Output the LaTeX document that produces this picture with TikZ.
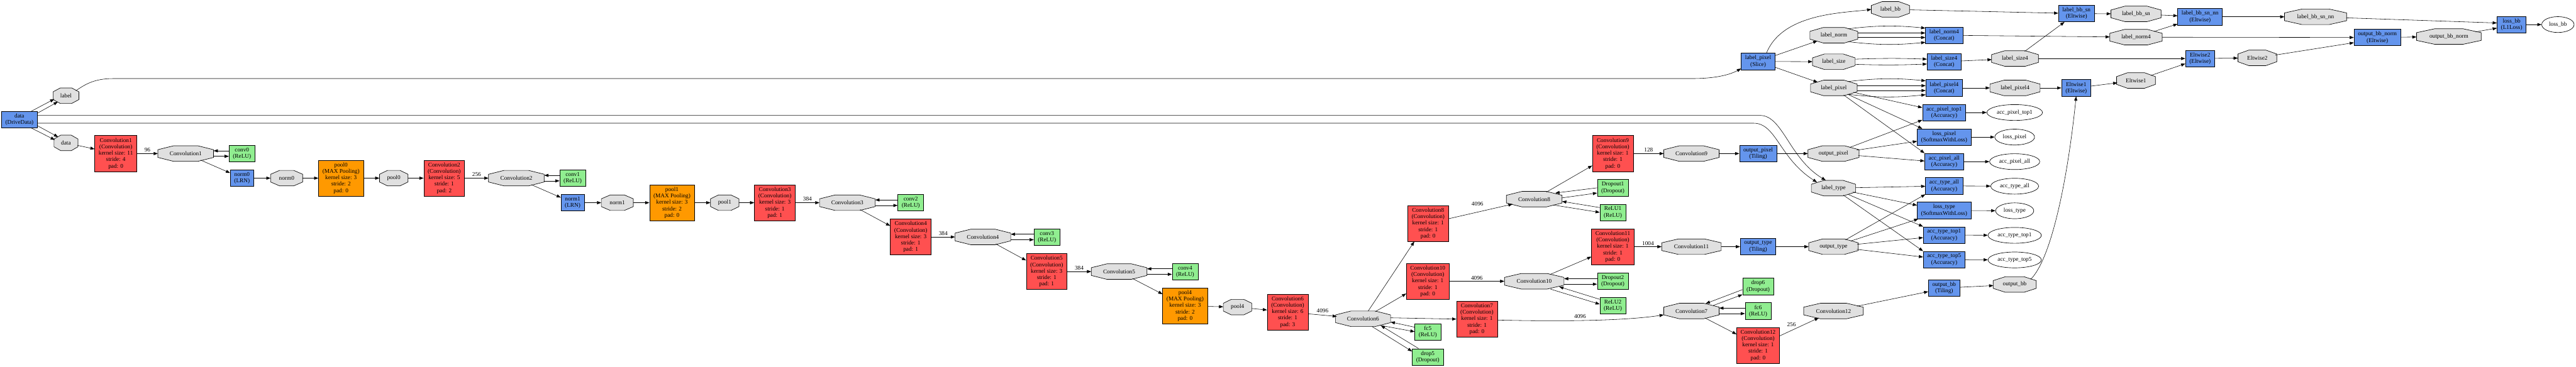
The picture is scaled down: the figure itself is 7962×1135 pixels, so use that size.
\documentclass[tikz,border=0pt]{standalone}
\usepackage{fontspec}
\setmainfont{Liberation Serif}
\usetikzlibrary{arrows.meta,shapes.geometric}
\definecolor{convred}{HTML}{FF5050}
\definecolor{poolorange}{HTML}{FF9900}
\definecolor{layerblue}{HTML}{6495ED}
\definecolor{neurongreen}{HTML}{90EE90}
\definecolor{blobgray}{HTML}{E0E0E0}
\newcommand{\gvfont}{\fontsize{18pt}{20pt}\selectfont}
\newcommand{\gvblob}[5]{%
  \path[blobshape] ({#2-0.5*#4},{-#3-12}) -- ({#2-0.5*#4},{-#3+12}) -- ({#2-0.22*#4},{-#3+24}) -- ({#2+0.22*#4},{-#3+24}) -- ({#2+0.5*#4},{-#3+12}) -- ({#2+0.5*#4},{-#3-12}) -- ({#2+0.22*#4},{-#3-24}) -- ({#2-0.22*#4},{-#3-24}) -- cycle;
  \node[blobnode, minimum width=#4pt] (#1) at (#2,-#3) {#5};
}
\begin{document}
\begin{tikzpicture}[x=1pt,y=1pt,
  conn/.style={draw=black, line width=1.1pt, -{Triangle[length=13pt,width=9.5pt]}},
  rec/.style={draw=black, line width=1.3pt, rectangle, inner xsep=12pt, inner ysep=0pt, align=center, font=\gvfont, minimum height=51pt},
  conv/.style={rec, minimum height=111pt, fill=convred},
  pool/.style={rec, minimum height=111pt, fill=poolorange},
  layerbox/.style={rec, fill=layerblue},
  neuron/.style={rec, fill=neurongreen},
  blobshape/.style={fill=blobgray, draw=black, line width=1.3pt},
  blobnode/.style={ellipse, minimum height=48pt, inner sep=0pt, font=\gvfont},
  outblob/.style={ellipse, draw=black, line width=1.3pt, fill=white, minimum height=49pt, inner sep=0pt, font=\gvfont},
  elabel/.style={font=\gvfont, inner sep=0pt}
]
\useasboundingbox (0,0) rectangle (7962,-1135);
\fill[white] (0,0) rectangle (7962,-1135);

% ---------- layer boxes ----------
\node[layerbox] (ddata) at (60,-370) {data\\(DriveData)};
\node[conv] (c1r) at (358,-475) {Convolution1\\(Convolution)\\kernel size: 11\\stride: 4\\pad: 0};
\node[neuron] (g0) at (748,-475) {conv0\\(ReLU)};
\node[layerbox] (n0r) at (748,-551) {norm0\\(LRN)};
\node[pool] (p0r) at (1054,-551) {pool0\\(MAX Pooling)\\kernel size: 3\\stride: 2\\pad: 0};
\node[conv] (c2r) at (1373,-551) {Convolution2\\(Convolution)\\kernel size: 5\\stride: 1\\pad: 2};
\node[neuron] (g1) at (1770,-551) {conv1\\(ReLU)};
\node[layerbox] (n1r) at (1770,-627) {norm1\\(LRN)};
\node[pool] (p1r) at (2077,-627) {pool1\\(MAX Pooling)\\kernel size: 3\\stride: 2\\pad: 0};
\node[conv] (c3r) at (2395,-627) {Convolution3\\(Convolution)\\kernel size: 3\\stride: 1\\pad: 1};
\node[neuron] (g2) at (2815,-627) {conv2\\(ReLU)};
\node[conv] (c4r) at (2815,-733) {Convolution4\\(Convolution)\\kernel size: 3\\stride: 1\\pad: 1};
\node[neuron] (g3) at (3236,-733) {conv3\\(ReLU)};
\node[conv] (c5r) at (3235,-840) {Convolution5\\(Convolution)\\kernel size: 3\\stride: 1\\pad: 1};
\node[neuron] (g4) at (3663,-840) {conv4\\(ReLU)};
\node[pool] (p4r) at (3663,-946) {pool4\\(MAX Pooling)\\kernel size: 3\\stride: 2\\pad: 0};
\node[conv] (c6r) at (3980,-965) {Convolution6\\(Convolution)\\kernel size: 6\\stride: 1\\pad: 3};
\node[neuron] (gfc5) at (4413,-1027) {fc5\\(ReLU)};
\node[neuron] (gdrop5) at (4413,-1104) {drop5\\(Dropout)};
\node[conv] (c8r) at (4414,-691) {Convolution8\\(Convolution)\\kernel size: 1\\stride: 1\\pad: 0};
\node[conv] (c10r) at (4413,-870) {Convolution10\\(Convolution)\\kernel size: 1\\stride: 1\\pad: 0};
\node[conv] (c7r) at (4565,-987) {Convolution7\\(Convolution)\\kernel size: 1\\stride: 1\\pad: 0};
\node[conv] (c9r) at (4985,-475) {Convolution9\\(Convolution)\\kernel size: 1\\stride: 1\\pad: 0};
\node[neuron] (gd1) at (4985,-581) {Dropout1\\(Dropout)};
\node[neuron] (gr1) at (4985,-657) {ReLU1\\(ReLU)};
\node[conv] (c11r) at (4985,-763) {Convolution11\\(Convolution)\\kernel size: 1\\stride: 1\\pad: 0};
\node[neuron] (gd2) at (4985,-870) {Dropout2\\(Dropout)};
\node[neuron] (gr2) at (4985,-946) {ReLU2\\(ReLU)};
\node[layerbox] (lps) at (5434,-190) {label\_pixel\\(Slice)};
\node[layerbox] (opb) at (5434,-475) {output\_pixel\\(Tiling)};
\node[layerbox] (otb) at (5434,-763) {output\_type\\(Tiling)};
\node[neuron] (gdrop6) at (5434,-886) {drop6\\(Dropout)};
\node[neuron] (gfc6) at (5434,-962) {fc6\\(ReLU)};
\node[conv] (c12r) at (5434,-1068) {Convolution12\\(Convolution)\\kernel size: 1\\stride: 1\\pad: 0};
\node[layerbox] (ln4b) at (6009,-109) {label\_norm4\\(Concat)};
\node[layerbox] (ls4b) at (6009,-191) {label\_size4\\(Concat)};
\node[layerbox] (lp4b) at (6009,-272) {label\_pixel4\\(Concat)};
\node[layerbox] (apt1b) at (6009,-348) {acc\_pixel\_top1\\(Accuracy)};
\node[layerbox] (lpb) at (6009,-424) {loss\_pixel\\(SoftmaxWithLoss)};
\node[layerbox] (apab) at (6009,-500) {acc\_pixel\_all\\(Accuracy)};
\node[layerbox] (atab) at (6009,-575) {acc\_type\_all\\(Accuracy)};
\node[layerbox] (ltb) at (6009,-651) {loss\_type\\(SoftmaxWithLoss)};
\node[layerbox] (att1b) at (6009,-727) {acc\_type\_top1\\(Accuracy)};
\node[layerbox] (att5b) at (6009,-803) {acc\_type\_top5\\(Accuracy)};
\node[layerbox] (obb) at (6009,-891) {output\_bb\\(Tiling)};
\node[layerbox] (lbsb) at (6418,-42) {label\_bb\_sn\\(Eltwise)};
\node[layerbox] (e1b) at (6417,-272) {Eltwise1\\(Eltwise)};
\node[layerbox] (lbsnb) at (6800,-52) {label\_bb\_sn\_nn\\(Eltwise)};
\node[layerbox] (e2b) at (6800,-181) {Eltwise2\\(Eltwise)};
\node[layerbox] (obnb) at (7348,-116) {output\_bb\_norm\\(Eltwise)};
\node[layerbox] (lbb) at (7763,-76) {loss\_bb\\(L1Loss)};

% ---------- blobs (octagons) ----------
\gvblob{labelo}{204}{296}{80}{label}
\gvblob{datao}{204}{442}{74}{data}
\gvblob{c1o}{574}{475}{172}{Convolution1}
\gvblob{n0o}{886}{551}{99}{norm0}
\gvblob{p0o}{1217}{551}{88}{pool0}
\gvblob{c2o}{1596}{551}{172}{Convolution2}
\gvblob{n1o}{1908}{627}{99}{norm1}
\gvblob{p1o}{2240}{627}{88}{pool1}
\gvblob{c3o}{2619}{627}{172}{Convolution3}
\gvblob{c4o}{3038}{733}{172}{Convolution4}
\gvblob{c5o}{3459}{840}{172}{Convolution5}
\gvblob{p4o}{3825}{950}{88}{pool4}
\gvblob{c6o}{4213}{986}{170}{Convolution6}
\gvblob{c8o}{4742}{616}{172}{Convolution8}
\gvblob{c10o}{4742}{870}{184}{Convolution10}
\gvblob{c9o}{5228}{475}{171}{Convolution9}
\gvblob{c11o}{5228}{763}{184}{Convolution11}
\gvblob{c7o}{5228}{962}{171}{Convolution7}
\gvblob{c12o}{5667}{962}{184}{Convolution12}
\gvblob{opo}{5667}{475}{158}{output\_pixel}
\gvblob{lto}{5667}{582}{137}{label\_type}
\gvblob{oto}{5667}{763}{153}{output\_type}
\gvblob{lbbo}{5843}{29}{118}{label\_bb}
\gvblob{lno}{5668}{109}{148}{label\_norm}
\gvblob{lso}{5668}{191}{132}{label\_size}
\gvblob{lpo}{5668}{272}{144}{label\_pixel}
\gvblob{ls4o}{6228}{181}{145}{label\_size4}
\gvblob{lp4o}{6228}{272}{155}{label\_pixel4}
\gvblob{obo}{6227}{880}{133}{output\_bb}
\gvblob{lbso}{6602}{43}{155}{label\_bb\_sn}
\gvblob{ln4o}{6602}{115}{162}{label\_norm4}
\gvblob{e1o}{6602}{249}{120}{Eltwise1}
\gvblob{e2o}{6977}{179}{120}{Eltwise2}
\gvblob{lbsno}{7157}{52}{192}{label\_bb\_sn\_nn}
\gvblob{obno}{7569}{113}{200}{output\_bb\_norm}

% ---------- output ellipses ----------
\node[outblob, minimum width=172pt] (apt1e) at (6227,-348) {acc\_pixel\_top1};
\node[outblob, minimum width=123pt] (lpe) at (6227,-424) {loss\_pixel};
\node[outblob, minimum width=155pt] (apae) at (6227,-500) {acc\_pixel\_all};
\node[outblob, minimum width=148pt] (atae) at (6227,-576) {acc\_type\_all};
\node[outblob, minimum width=118pt] (lte) at (6227,-652) {loss\_type};
\node[outblob, minimum width=165pt] (att1e) at (6227,-728) {acc\_type\_top1};
\node[outblob, minimum width=165pt] (att5e) at (6227,-804) {acc\_type\_top5};
\node[outblob, minimum width=100pt] (lbe) at (7906,-76) {loss\_bb};

% ---------- data layer edges ----------
\draw[conn] ([xshift=-19pt]ddata.north east) -- (labelo.196);
\draw[conn] ([yshift=-6pt]ddata.north east) -- (labelo.217);
\draw[conn] ([xshift=-19pt]ddata.south east) -- (datao.165);
\draw[conn] ([yshift=7pt]ddata.south east) -- (datao.143);
\draw[conn] ([yshift=13pt]ddata.east) -- (5440,-357) .. controls (5510,-357) and (5530,-490) .. ([xshift=-24pt]lto.north);
\draw[conn] ([yshift=-11pt]ddata.east) -- (5420,-381) .. controls (5490,-381) and (5500,-490) .. ([xshift=-51pt,yshift=-6pt]lto.north);
\draw[conn] (labelo.27) .. controls (262,-262) and (290,-243) .. (350,-243) -- (5230,-243) .. controls (5300,-243) and (5345,-232) .. ([yshift=4pt]lps.south west);

% ---------- convolution chain ----------
\draw[conn] (datao) -- (c1r);
\draw[conn] (c1r) -- node[elabel, above=4pt] {96} (c1o);
\draw[conn] ([yshift=8.5pt]g0.west) -- ([yshift=8.5pt]c1o.east);
\draw[conn] ([yshift=-8.5pt]c1o.east) -- ([yshift=-8.5pt]g0.west);
\draw[conn] (c1o) -- (n0r);
\draw[conn] (n0r) -- (n0o);
\draw[conn] (n0o) -- (p0r);
\draw[conn] (p0r) -- (p0o);
\draw[conn] (p0o) -- (c2r);
\draw[conn] (c2r) -- node[elabel, above=5pt] {256} (c2o);
\draw[conn] ([yshift=8.5pt]g1.west) -- ([yshift=8.5pt]c2o.east);
\draw[conn] ([yshift=-8.5pt]c2o.east) -- ([yshift=-8.5pt]g1.west);
\draw[conn] (c2o) -- (n1r);
\draw[conn] (n1r) -- (n1o);
\draw[conn] (n1o) -- (p1r);
\draw[conn] (p1r) -- (p1o);
\draw[conn] (p1o) -- (c3r);
\draw[conn] (c3r) -- node[elabel, above=5pt] {384} (c3o);
\draw[conn] ([yshift=8.5pt]g2.west) -- ([yshift=8.5pt]c3o.east);
\draw[conn] ([yshift=-8.5pt]c3o.east) -- ([yshift=-8.5pt]g2.west);
\draw[conn] (c3o) -- (c4r);
\draw[conn] (c4r) -- node[elabel, above=5pt] {384} (c4o);
\draw[conn] ([yshift=8.5pt]g3.west) -- ([yshift=8.5pt]c4o.east);
\draw[conn] ([yshift=-8.5pt]c4o.east) -- ([yshift=-8.5pt]g3.west);
\draw[conn] (c4o) -- (c5r);
\draw[conn] (c5r) -- node[elabel, above=5pt] {384} (c5o);
\draw[conn] ([yshift=8.5pt]g4.west) -- ([yshift=8.5pt]c5o.east);
\draw[conn] ([yshift=-8.5pt]c5o.east) -- ([yshift=-8.5pt]g4.west);
\draw[conn] (c5o) -- (p4r);
\draw[conn] (p4r) -- (p4o);
\draw[conn] (p4o) -- (c6r);
\draw[conn] (c6r) -- node[elabel, above=7pt] {4096} (c6o);
\draw[conn] ([yshift=15pt]gfc5.west) -- ([yshift=-10pt]c6o.east);
\draw[conn] ([shift={(51pt,-20pt)}]c6o.center) -- ([yshift=1pt]gfc5.west);
\draw[conn] ([xshift=20pt]gdrop5.north west) -- ([shift={(55pt,-21pt)}]c6o.center);
\draw[conn] ([xshift=28pt]c6o.south) -- ([yshift=-9pt]gdrop5.north west);
\draw[conn] (c6o) -- ([xshift=21pt]c8r.south west);
\draw[conn] (c6o) -- ([yshift=18pt]c10r.south west);
\draw[conn] ([yshift=3pt]c6o.east) -- (c7r.west);

% Convolution8 branch
\draw[conn] (c8r) -- node[elabel, pos=0.45, above=18pt] {4096} (c8o);
\draw[conn] (gd1.west) -- ([shift={(-21pt,19pt)}]c8o.east);
\draw[conn] ([yshift=4pt]c8o.east) -- ([yshift=-16pt]gd1.west);
\draw[conn] ([yshift=15pt]gr1.west) -- ([yshift=-7pt]c8o.east);
\draw[conn] ([shift={(-28pt,-18pt)}]c8o.east) -- (gr1.west);
\draw[conn] (c8o) -- ([yshift=19pt]c9r.south west);
\draw[conn] (c9r) -- node[elabel, above=5pt] {128} (c9o);
\draw[conn] (c9o) -- (opb);
\draw[conn] (opb) -- (opo);

% Convolution10 branch
\draw[conn] (c10r) -- node[elabel, above=4pt] {4096} (c10o);
\draw[conn] ([yshift=8pt]gd2.west) -- ([yshift=8pt]c10o.east);
\draw[conn] ([yshift=-9pt]c10o.east) -- ([yshift=-9pt]gd2.west);
\draw[conn] ([yshift=-6pt]gr2.north west) -- ([shift={(-15pt,-17pt)}]c10o.east);
\draw[conn] ([xshift=50pt]c10o.south) -- ([yshift=5pt]gr2.west);
\draw[conn] (c10o) -- ([yshift=25pt]c11r.south west);
\draw[conn] (c11r) -- node[elabel, above=4pt] {1004} (c11o);
\draw[conn] (c11o) -- (otb);
\draw[conn] (otb) -- (oto);

% Convolution7 branch
\draw[conn] ([yshift=-3pt]c7r.east) .. controls (4800,-994) and (5010,-994) .. node[elabel, pos=0.47, above=6pt] {4096} ([yshift=-12pt]c7o.west);
\draw[conn] ([yshift=-10pt]gdrop6.west) -- ([shift={(44pt,23pt)}]c7o.center);
\draw[conn] ([shift={(67pt,17pt)}]c7o.center) -- ([yshift=1pt]gdrop6.south west);
\draw[conn] ([yshift=9pt]gfc6.west) -- ([yshift=9pt]c7o.east);
\draw[conn] ([yshift=-8pt]c7o.east) -- ([yshift=-8pt]gfc6.west);
\draw[conn] (c7o) -- ([yshift=-22pt]c12r.north west);
\draw[conn] ([yshift=29pt]c12r.east) -- node[elabel, pos=0.3, above=12pt] {256} (c12o);
\draw[conn] (c12o) -- ([yshift=-11pt]obb.west);
\draw[conn] (obb) -- (obo);
\draw[conn] (obo.18) .. controls (6340,-800) and (6390,-560) .. (e1b.south);

% ---------- label slicing ----------
\draw[conn] ([xshift=26pt]lps.north) .. controls (5510,-40) and (5700,-40) .. (lbbo.west);
\draw[conn] ([yshift=-8pt]lps.north east) -- (lno);
\draw[conn] (lps) -- (lso);
\draw[conn] ([yshift=8pt]lps.south east) -- (lpo);
\draw[conn] (lno.25) to[bend left=6] ([yshift=22pt]ln4b.west);
\draw[conn] ([yshift=7pt]lno.east) -- ([yshift=7pt]ln4b.west);
\draw[conn] ([yshift=-7pt]lno.east) -- ([yshift=-7pt]ln4b.west);
\draw[conn] (lno.-25) to[bend right=6] ([yshift=-22pt]ln4b.west);
\draw[conn] ([yshift=8pt]lso.east) to[bend left=2] ([yshift=8pt]ls4b.west);
\draw[conn] ([yshift=-8pt]lso.east) to[bend right=2] ([yshift=-7pt]ls4b.west);
\draw[conn] (lpo.25) to[bend left=6] ([yshift=22pt]lp4b.west);
\draw[conn] ([yshift=7pt]lpo.east) -- ([yshift=7pt]lp4b.west);
\draw[conn] ([yshift=-8pt]lpo.east) -- ([yshift=-8pt]lp4b.west);
\draw[conn] (lpo.-25) to[bend right=6] ([yshift=-21pt]lp4b.west);
\draw[conn] (ln4b) -- (ln4o);
\draw[conn] (ls4b) -- (ls4o);
\draw[conn] (lp4b) -- (lp4o);

% ---------- bounding box loss ----------
\draw[conn] (lbbo) -- (lbsb);
\draw[conn] (ls4o) -- ([xshift=19pt]lbsb.south west);
\draw[conn] (ls4o) -- (e2b);
\draw[conn] (lbsb) -- (lbso);
\draw[conn] (lbso) -- (lbsnb);
\draw[conn] (ln4o) -- ([yshift=4pt]lbsnb.south west);
\draw[conn] (ln4o) -- (obnb);
\draw[conn] (lbsnb) -- (lbsno);
\draw[conn] (lbsno) -- ([yshift=5pt]lbb.west);
\draw[conn] (lp4o) -- (e1b);
\draw[conn] (e1b) -- (e1o);
\draw[conn] (e1o) -- ([yshift=-16pt]e2b.west);
\draw[conn] (e2b) -- (e2o);
\draw[conn] (e2o) -- ([yshift=-16pt]obnb.west);
\draw[conn] (obnb) -- (obno);
\draw[conn] (obno) -- ([yshift=-11pt]lbb.west);
\draw[conn] (lbb) -- (lbe);

% ---------- pixel / type losses ----------
\draw[conn] (lpo) -- ([yshift=-11pt]apt1b.north west);
\draw[conn] (lpo) -- ([xshift=16pt]lpb.north west);
\draw[conn] (lpo) -- (apab.north west);
\draw[conn] (opo) -- ([yshift=3pt]apt1b.south west);
\draw[conn] (opo) -- ([yshift=-13pt]lpb.west);
\draw[conn] (opo) -- ([yshift=2pt]apab.west);
\draw[conn] (lto) -- (atab);
\draw[conn] (lto) -- ([yshift=16pt]ltb.west);
\draw[conn] (lto) -- (att1b.north west);
\draw[conn] (lto) -- (att5b.north west);
\draw[conn] (oto) -- (atab.south west);
\draw[conn] (oto) -- ([xshift=4pt]ltb.south west);
\draw[conn] (oto) -- ([yshift=-8pt]att1b.west);
\draw[conn] (oto) -- ([yshift=8pt]att5b.west);
\draw[conn] (apt1b) -- (apt1e);
\draw[conn] (lpb) -- (lpe);
\draw[conn] (apab) -- (apae);
\draw[conn] (atab) -- (atae);
\draw[conn] (ltb) -- (lte);
\draw[conn] (att1b) -- (att1e);
\draw[conn] (att5b) -- (att5e);
\end{tikzpicture}
\end{document}
